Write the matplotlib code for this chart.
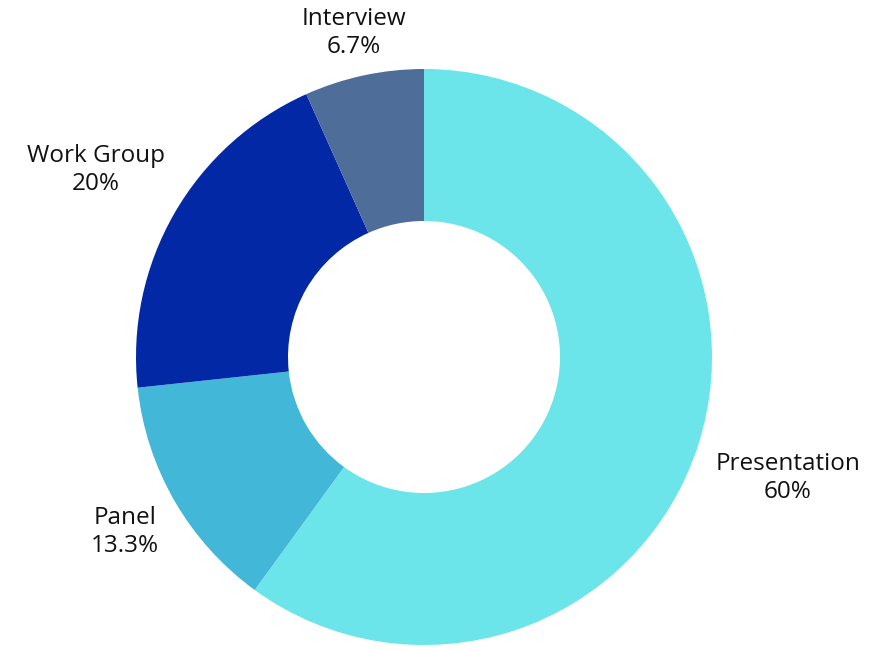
import matplotlib
matplotlib.use("Agg")
import matplotlib.pyplot as plt

categories = ["Presentation", "Panel", "Work Group", "Interview"]
values = [60, 13.3, 20, 6.7]
pct_labels = ["60%", "13.3%", "20%", "6.7%"]
colors = ["#6BE5E9", "#43B7D7", "#0328A6", "#4E6D99"]

# label centres in pixel coordinates (x, y from top)
label_pos = [(788, 478), (125, 532), (96, 170), (354, 33)]

W, H = 884, 650
fig = plt.figure(figsize=(W / 100, H / 100), dpi=100)
ax = fig.add_axes([0, 0, 1, 1])

cx, cy = 424, H - 357
R_out, R_in = 288, 136
ax.pie(values, colors=colors, startangle=90, counterclock=False,
       center=(cx, cy), radius=R_out,
       wedgeprops=dict(width=R_out - R_in, linewidth=0), frame=True)
ax.set_xlim(0, W)
ax.set_ylim(0, H)
ax.set_aspect("equal")
ax.axis("off")

for (x, y), c, p in zip(label_pos, categories, pct_labels):
    ax.text(x, H - y, f"{c}\n{p}", ha="center", va="center", fontsize=17.5,
            family="Open Sans", color="#111111", linespacing=1.22)

fig.savefig("out.png", dpi=100)
